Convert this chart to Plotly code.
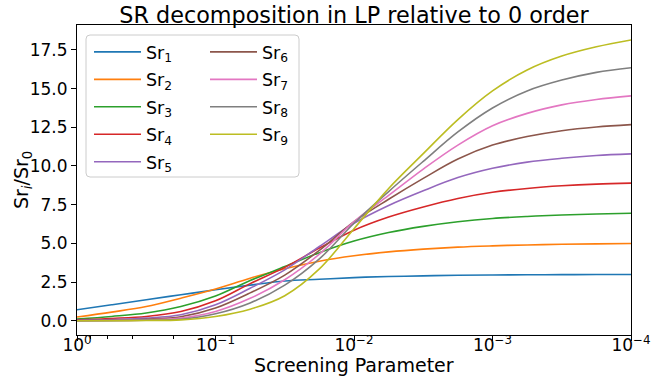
import plotly.graph_objects as go

screening = [1.0, 0.5623, 0.3162, 0.1778, 0.1, 0.05623, 0.03162, 0.01778, 0.01,
             0.005623, 0.003162, 0.001778, 0.001, 0.0005623, 0.0003162, 0.0001778, 0.0001]

sr1 = [0.71, 1.03, 1.36, 1.68, 2.00, 2.30, 2.57, 2.68, 2.79, 2.86, 2.90, 2.94, 2.96, 2.97, 2.98, 2.99, 2.99]
sr2 = [0.24, 0.56, 0.92, 1.46, 2.05, 2.75, 3.36, 3.85, 4.20, 4.45, 4.63, 4.76, 4.84, 4.90, 4.94, 4.97, 4.99]
sr3 = [0.11, 0.28, 0.50, 0.92, 1.60, 2.60, 3.50, 4.40, 5.15, 5.70, 6.10, 6.40, 6.61, 6.74, 6.83, 6.90, 6.95]
sr4 = [0.06, 0.15, 0.28, 0.60, 1.29, 2.40, 3.45, 4.70, 5.85, 6.70, 7.35, 7.90, 8.30, 8.55, 8.72, 8.83, 8.89]
sr5 = [0.03, 0.08, 0.17, 0.39, 1.03, 2.10, 3.29, 4.80, 6.30, 7.45, 8.40, 9.25, 9.85, 10.25, 10.50, 10.68, 10.78]
sr6 = [0.01, 0.04, 0.10, 0.26, 0.82, 1.80, 2.95, 4.55, 6.40, 7.85, 9.20, 10.45, 11.35, 11.90, 12.28, 12.52, 12.67]
sr7 = [0.00, 0.02, 0.06, 0.17, 0.60, 1.45, 2.65, 4.30, 6.40, 8.10, 9.80, 11.35, 12.60, 13.40, 13.95, 14.30, 14.53]
sr8 = [0.00, 0.01, 0.04, 0.10, 0.45, 1.15, 2.30, 4.00, 6.30, 8.35, 10.30, 12.20, 13.75, 14.85, 15.55, 16.05, 16.35]
sr9 = [0.00, 0.00, 0.02, 0.06, 0.28, 0.75, 1.62, 3.35, 5.95, 8.55, 10.80, 13.00, 14.85, 16.20, 17.10, 17.70, 18.14]

series = [sr1, sr2, sr3, sr4, sr5, sr6, sr7, sr8, sr9]
names = ["Sr<sub>%d</sub>" % i for i in range(1, 10)]
colors = ["#1f77b4", "#ff7f0e", "#2ca02c", "#d62728", "#9467bd",
          "#8c564b", "#e377c2", "#7f7f7f", "#bcbd22"]

x_tickvals = [1, 0.1, 0.01, 0.001, 0.0001]
x_ticktext = ["10<sup>0</sup>", "10<sup>\u22121</sup>", "10<sup>\u22122</sup>",
              "10<sup>\u22123</sup>", "10<sup>\u22124</sup>"]
y_tickvals = [0.0, 2.5, 5.0, 7.5, 10.0, 12.5, 15.0, 17.5]

FONT = "DejaVu Sans"

fig = go.Figure()
for i, (ys, nm, c) in enumerate(zip(series, names, colors)):
    fig.add_trace(go.Scatter(
        x=screening, y=ys, name=nm, mode="lines",
        line=dict(color=c, width=1.6, shape="spline", smoothing=1.0),
        legend="legend" if i < 5 else "legend2",
        legendgroup="g%d" % i,
    ))

W, H = 652, 383
ml, mr, mt, mb = 77, 21, 25, 48
pw, ph = W - ml - mr, H - mt - mb

def px2paper(px, py):
    return (px - ml) / pw, 1 - (py - mt) / ph

# legend frame (rounded rectangle) in paper coords
bx0, by0 = px2paper(86, 35)
bx1, by1 = px2paper(299, 177)
rx, ry = 4 / pw, 4 / ph
path = (f"M {bx0+rx},{by0} L {bx1-rx},{by0} Q {bx1},{by0} {bx1},{by0-ry} "
        f"L {bx1},{by1+ry} Q {bx1},{by1} {bx1-rx},{by1} "
        f"L {bx0+rx},{by1} Q {bx0},{by1} {bx0},{by1+ry} "
        f"L {bx0},{by0-ry} Q {bx0},{by0} {bx0+rx},{by0} Z")

lx1, ly1 = px2paper(89, 34)
lx2, ly2 = px2paper(205, 34)

leg_common = dict(xanchor="left", yanchor="top", bgcolor="rgba(0,0,0,0)", borderwidth=0,
                  font=dict(size=17.5, family=FONT), tracegroupgap=1.7, itemwidth=47)

xt_x, xt_y = px2paper(354, 365)
yt_x, yt_y = px2paper(22, 180)

fig.update_layout(
    width=W, height=H,
    margin=dict(l=ml, r=mr, t=mt, b=mb, pad=0, autoexpand=False),
    paper_bgcolor="white", plot_bgcolor="white",
    font=dict(family=FONT, size=17, color="black"),
    title=dict(text="SR decomposition in LP relative to 0 order",
               font=dict(size=22.3, family=FONT, color="black"),
               x=0.5, xref="paper", xanchor="center",
               y=1, yref="paper", yanchor="bottom", pad=dict(b=2)),
    shapes=[dict(type="path", path=path, xref="paper", yref="paper",
                 fillcolor="rgba(255,255,255,0.8)", line=dict(color="#cccccc", width=1),
                 layer="above")],
    annotations=[
        dict(text="Screening Parameter", x=xt_x, y=xt_y, xref="paper", yref="paper",
             xanchor="center", yanchor="middle", showarrow=False,
             font=dict(size=19, family=FONT, color="black")),
        dict(text="Sr<sub><i>i</i></sub>/Sr<sub>0</sub>", x=yt_x, y=yt_y, xref="paper", yref="paper",
             xanchor="center", yanchor="middle", showarrow=False, textangle=-90,
             font=dict(size=19, family=FONT, color="black")),
    ],
    legend=dict(x=lx1, y=ly1, **leg_common),
    legend2=dict(x=lx2, y=ly2, **leg_common),
    showlegend=True,
)

fig.update_xaxes(
    type="log", range=[0, -4], automargin=False,
    tickvals=x_tickvals, ticktext=x_ticktext,
    ticks="outside", ticklen=5, tickwidth=1, tickcolor="black",
    ticklabelstandoff=-10,
    minor=dict(ticks="outside", ticklen=3, tickcolor="black", tickwidth=0.8, showgrid=False),
    showline=True, linecolor="black", linewidth=1, mirror=True,
    showgrid=False, zeroline=False,
    tickfont=dict(size=17, family=FONT),
)
fig.update_yaxes(
    range=[-0.92, 19.11], automargin=False,
    tickvals=y_tickvals, tickformat=".1f",
    ticks="outside", ticklen=5, tickwidth=1, tickcolor="black",
    showline=True, linecolor="black", linewidth=1, mirror=True,
    showgrid=False, zeroline=False,
    tickfont=dict(size=17, family=FONT),
)

fig.write_html("out.html")
